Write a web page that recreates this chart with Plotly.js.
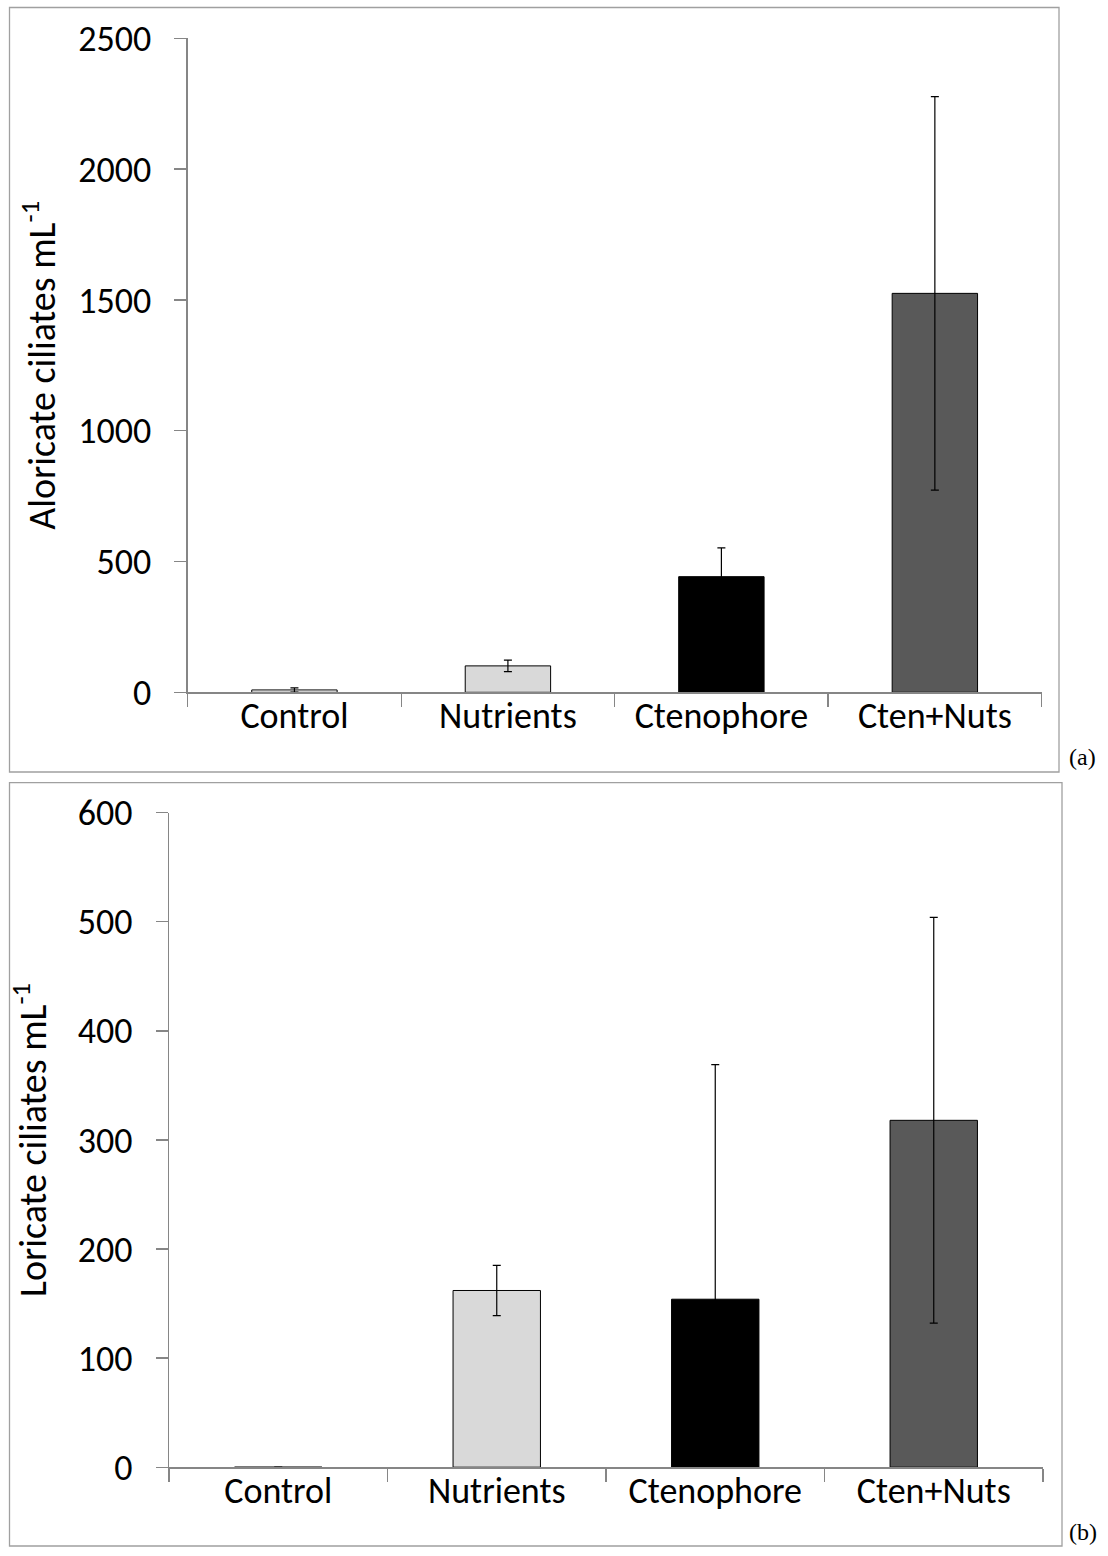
<!DOCTYPE html>
<html>
<head>
<meta charset="utf-8">
<script src="https://cdn.plot.ly/plotly-3.0.1.min.js"></script>
<style>html,body{margin:0;padding:0;background:#fff;}#chart{width:1108px;height:1556px;}</style>
</head>
<body>
<div id="chart"></div>
<script>
const categories = ["Control", "Nutrients", "Ctenophore", "Cten+Nuts"];
const aloricateValues = [9, 101, 442, 1525];
const aloricateErrors = [8, 22, 110, 752];
const loricateValues = [0, 162, 154, 318];
const loricateErrors = [0, 23, 215, 186];
const barColors = ["#ffffff", "#d9d9d9", "#000000", "#595959"];
const yTicksTop = [0, 500, 1000, 1500, 2000, 2500];
const yTicksBottom = [0, 100, 200, 300, 400, 500, 600];

const W = 1108, H = 1556;
const px = v => v / W;
const py = v => 1 - v / H;
const FONT = "Carlito, Lato, 'Open Sans', sans-serif";
const axisGray = "#868686";
const FS = 36;

function barTrace(vals, errs, xa, ya) {
  return {
    type: "bar", x: categories, y: vals, xaxis: xa, yaxis: ya,
    marker: { color: barColors, line: { color: "#000000", width: 1 } },
    error_y: { type: "data", array: errs, visible: true, symmetric: true, color: "#000000", thickness: 1.2, width: 4 },
    hoverinfo: "skip", showlegend: false
  };
}

const data = [
  barTrace(aloricateValues, aloricateErrors, "x", "y"),
  barTrace(loricateValues, loricateErrors, "x2", "y2")
];

function xAxis(domain, anchor) {
  return {
    domain: domain, anchor: anchor, type: "category",
    showline: true, linecolor: axisGray, linewidth: 1.3,
    ticks: "outside", tickson: "boundaries", ticklen: 13, tickcolor: axisGray, tickwidth: 1.3,
    showgrid: false, zeroline: false, fixedrange: true,
    ticklabelstandoff: -9,
    tickfont: { family: FONT, size: FS, color: "#000" }
  };
}
function yAxis(domain, anchor, range, ticks, title, standoff) {
  return {
    domain: domain, anchor: anchor, range: range, tickvals: ticks, ticktext: ticks.map(String),
    showline: true, linecolor: axisGray, linewidth: 1.3,
    ticks: "outside", ticklen: 12, tickcolor: axisGray, tickwidth: 1.3,
    showgrid: false, zeroline: false, fixedrange: true,
    tickfont: { family: FONT, size: FS, color: "#000" },
    ticklabelstandoff: 16,
    title: { text: title, font: { family: FONT, size: 38, color: "#000" }, standoff: standoff }
  };
}

const layout = {
  width: W, height: H,
  margin: { l: 0, r: 0, t: 0, b: 0 },
  paper_bgcolor: "#ffffff", plot_bgcolor: "#ffffff",
  bargap: 0.6,
  showlegend: false,
  xaxis: xAxis([px(187.7), px(1041.6)], "y"),
  yaxis: yAxis([py(692.3), py(38.3)], "x", [0, 2500], yTicksTop, "Aloricate ciliates mL<sup>-1</sup>", 11),
  xaxis2: xAxis([px(169), px(1043)], "y2"),
  yaxis2: yAxis([py(1467.2), py(812.7)], "x2", [0, 600], yTicksBottom, "Loricate ciliates mL<sup>-1</sup>", 19),
  shapes: [
    { type: "rect", xref: "paper", yref: "paper", x0: px(9.5), x1: px(1059), y0: py(772), y1: py(7.5), line: { color: "#a0a0a0", width: 1.3 }, fillcolor: "rgba(0,0,0,0)", layer: "below" },
    { type: "rect", xref: "paper", yref: "paper", x0: px(9.5), x1: px(1062), y0: py(1546), y1: py(782.7), line: { color: "#a0a0a0", width: 1.3 }, fillcolor: "rgba(0,0,0,0)", layer: "below" }
  ],
  annotations: [
    { text: "(a)", xref: "paper", yref: "paper", x: px(1067), y: py(757), xanchor: "left", yanchor: "middle", showarrow: false, font: { family: "'Liberation Serif', 'Times New Roman', serif", size: 24, color: "#000" } },
    { text: "(b)", xref: "paper", yref: "paper", x: px(1067), y: py(1532), xanchor: "left", yanchor: "middle", showarrow: false, font: { family: "'Liberation Serif', 'Times New Roman', serif", size: 24, color: "#000" } }
  ]
};

Plotly.newPlot("chart", data, layout, { staticPlot: true, displayModeBar: false });
</script>
</body>
</html>
